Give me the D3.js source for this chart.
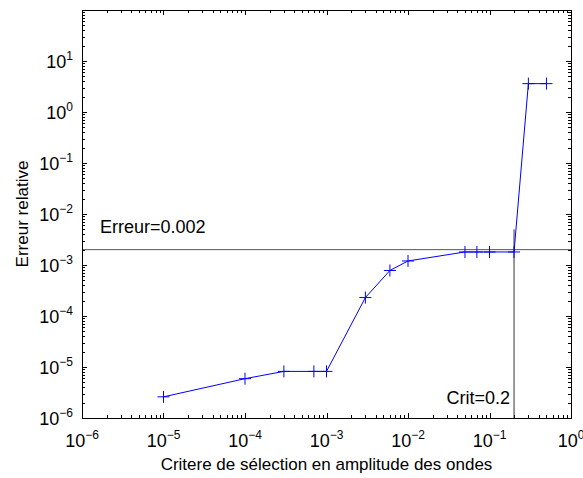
<!DOCTYPE html>
<html lang="fr">
<head>
<meta charset="UTF-8">
<title>Erreur relative vs critere</title>
<script src="https://cdn.jsdelivr.net/npm/d3@7"></script>
<style>
	body { margin: 0; background: #fff; }
	text { font-family: "Liberation Sans", Arial, sans-serif; fill: #000; }
</style>
</head>
<body>
<div id="chart"></div>
<script>
	// data
	var critere = [1e-5, 1e-4, 3e-4, 7e-4, 1e-3, 3e-3, 6e-3, 1e-2, 0.05, 0.07, 0.1, 0.2, 0.3, 0.5];
	var erreur  = [2.6e-6, 5.9e-6, 8.2e-6, 8.2e-6, 8.2e-6, 2.3e-4, 7.8e-4, 1.2e-3, 1.8e-3, 1.8e-3, 1.8e-3, 1.8e-3, 3.6, 3.6];
	var xTicks = [-6, -5, -4, -3, -2, -1, 0];
	var yTicks = [-6, -5, -4, -3, -2, -1, 0, 1];
	var seuilErreur = 0.002, seuilCrit = 0.2, critTop = 5e-3;

	var w = 583, h = 478;
	var margin = {top: 10, right: 12, bottom: 60, left: 82},
		width = w - margin.left - margin.right,
		height = h - margin.top - margin.bottom;

	var svg = d3.select("#chart").append("svg")
		.attr("width", w).attr("height", h)
		.append("g")
		.attr("transform", `translate(${margin.left},${margin.top})`);

	var x = d3.scaleLog().domain([1e-6, 1]).range([0, width]);
	var y = d3.scaleLog().domain([1e-6, 1e2]).range([height, 0]);

	// minor ticks 2..9 per decade
	function minors(lo, hi) {
		var out = [];
		for (var e = lo; e < hi; e++)
			for (var k = 2; k <= 9; k++) out.push(k * Math.pow(10, e));
		return out;
	}
	var xMinor = minors(-6, 0), yMinor = minors(-6, 2);
	var xMajor = xTicks.map(e => Math.pow(10, e));
	var yMajor = d3.range(-6, 3).map(e => Math.pow(10, e));

	// ticks inside the box, on all four sides
	var ticks = svg.append("g").attr("stroke", "#000").attr("stroke-width", 1);
	xMajor.map(v => ({v: v, l: 5})).concat(xMinor.map(v => ({v: v, l: 3}))).forEach(function(d) {
		var px = Math.round(x(d.v)) + 0.5;
		ticks.append("line").attr("x1", px).attr("x2", px).attr("y1", height).attr("y2", height - d.l);
		ticks.append("line").attr("x1", px).attr("x2", px).attr("y1", 0).attr("y2", d.l);
	});
	yMajor.map(v => ({v: v, l: 5})).concat(yMinor.map(v => ({v: v, l: 3}))).forEach(function(d) {
		var py = Math.round(y(d.v)) + 0.5;
		ticks.append("line").attr("y1", py).attr("y2", py).attr("x1", 0).attr("x2", d.l);
		ticks.append("line").attr("y1", py).attr("y2", py).attr("x1", width).attr("x2", width - d.l);
	});

	// threshold lines
	svg.append("line")
		.attr("x1", 0).attr("x2", width)
		.attr("y1", y(seuilErreur)).attr("y2", y(seuilErreur))
		.attr("stroke", "#555").attr("stroke-width", 1);
	svg.append("line")
		.attr("x1", x(seuilCrit)).attr("x2", x(seuilCrit))
		.attr("y1", height).attr("y2", y(critTop))
		.attr("stroke", "#333").attr("stroke-width", 1);

	// data line
	var pts = critere.map((c, i) => [c, erreur[i]]);
	svg.append("path")
		.datum(pts)
		.attr("fill", "none")
		.attr("stroke", "#0000ff")
		.attr("stroke-width", 1)
		.attr("d", d3.line().x(d => x(d[0])).y(d => y(d[1])));

	svg.selectAll(".mk").data(pts).enter().append("path")
		.attr("class", "mk")
		.attr("transform", d => `translate(${x(d[0])},${y(d[1])})`)
		.attr("d", "M-6,0H6M0,-6V6")
		.attr("stroke", "#0000ff").attr("stroke-width", 1);

	// frame
	svg.append("rect").attr("width", width).attr("height", height)
		.attr("fill", "none").attr("stroke", "#000").attr("stroke-width", 1)
		.attr("shape-rendering", "crispEdges");

	// tick labels
	var fs = 18;
	xTicks.forEach(function(e) {
		var t = svg.append("text")
			.attr("x", x(Math.pow(10, e)))
			.attr("y", height + 29)
			.attr("text-anchor", "middle")
			.attr("font-size", fs);
		t.append("tspan").text("10");
		t.append("tspan").attr("dy", -8).attr("font-size", 12).text(e < 0 ? "\u2212" + (-e) : e);
	});
	yTicks.forEach(function(e) {
		var t = svg.append("text")
			.attr("x", -9)
			.attr("y", y(Math.pow(10, e)) + 7)
			.attr("text-anchor", "end")
			.attr("font-size", fs);
		t.append("tspan").text("10");
		t.append("tspan").attr("dy", -8).attr("font-size", 12).text(e < 0 ? "\u2212" + (-e) : e);
	});

	// annotations
	svg.append("text").attr("x", 18).attr("y", 223)
		.attr("font-size", fs).text("Erreur=0.002");
	svg.append("text").attr("x", x(seuilCrit) - 4).attr("y", 394)
		.attr("text-anchor", "end").attr("font-size", fs).text("Crit=0.2");

	// axis titles
	svg.append("text")
		.attr("x", width / 2).attr("y", height + 52)
		.attr("text-anchor", "middle").attr("font-size", 17)
		.text("Critere de sélection en amplitude des ondes");
	svg.append("text")
		.attr("transform", `translate(${-54},${height / 2}) rotate(-90)`)
		.attr("text-anchor", "middle").attr("font-size", 17)
		.text("Erreur relative");
</script>
</body>
</html>
